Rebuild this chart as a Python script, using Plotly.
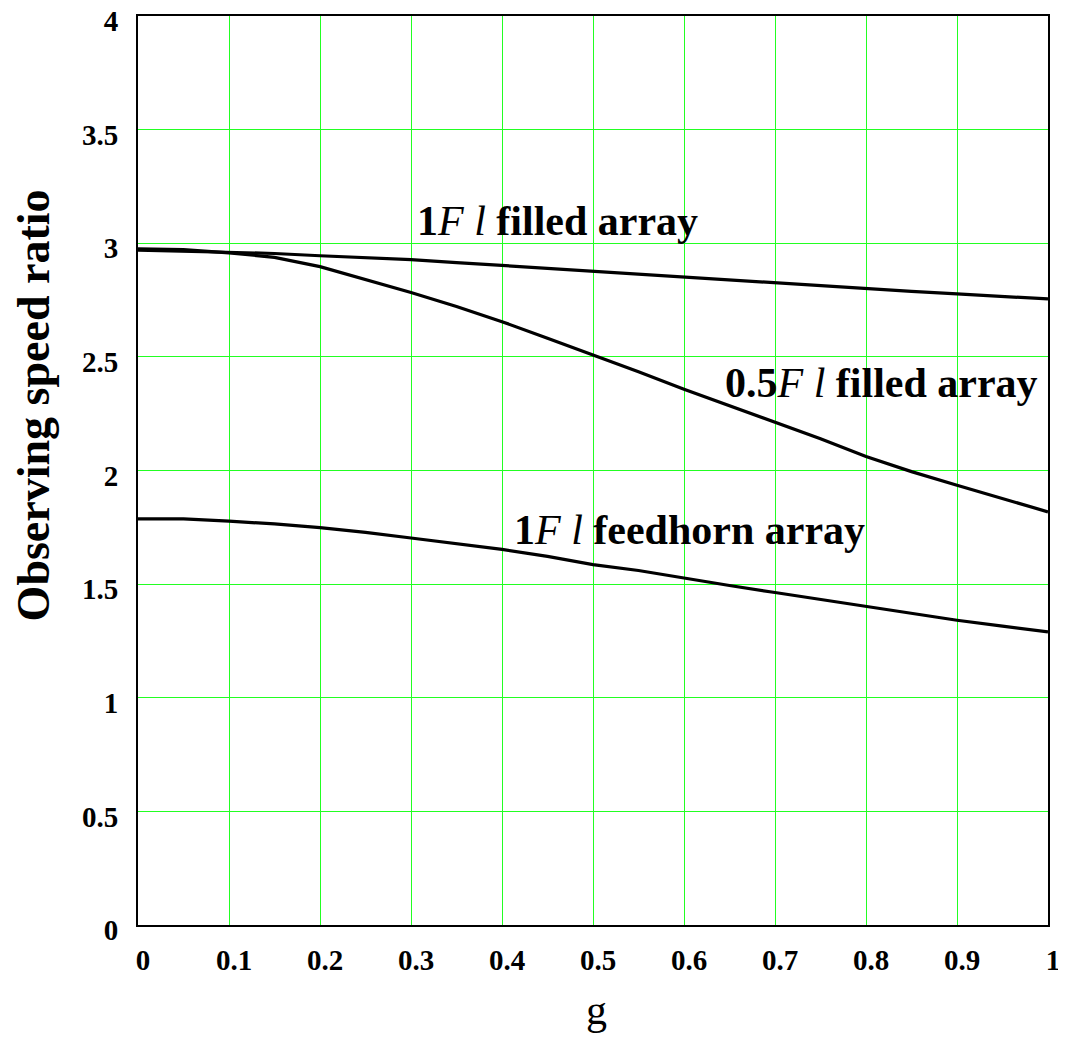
import plotly.graph_objects as go

g_vals = [0, 0.05, 0.1, 0.15, 0.2, 0.25, 0.3, 0.35, 0.4, 0.45, 0.5,
          0.55, 0.6, 0.65, 0.7, 0.75, 0.8, 0.85, 0.9, 0.95, 1.0]

filled_1fl = [2.970, 2.965, 2.960, 2.955, 2.945, 2.937, 2.928, 2.915, 2.902, 2.890, 2.878,
              2.864, 2.850, 2.840, 2.827, 2.813, 2.800, 2.788, 2.777, 2.765, 2.755]

filled_05fl = [2.975, 2.972, 2.958, 2.938, 2.897, 2.840, 2.783, 2.722, 2.655, 2.582, 2.510,
               2.435, 2.358, 2.285, 2.212, 2.140, 2.062, 1.995, 1.935, 1.877, 1.818]

feedhorn_1fl = [1.787, 1.787, 1.777, 1.765, 1.749, 1.728, 1.703, 1.679, 1.653, 1.622, 1.586,
                1.560, 1.526, 1.494, 1.463, 1.433, 1.400, 1.370, 1.341, 1.315, 1.290]

x_ticks = [0, 0.1, 0.2, 0.3, 0.4, 0.5, 0.6, 0.7, 0.8, 0.9, 1]
x_tick_labels = ["0", "0.1", "0.2", "0.3", "0.4", "0.5", "0.6", "0.7", "0.8", "0.9", "1"]
y_ticks = [0, 0.5, 1, 1.5, 2, 2.5, 3, 3.5, 4]
y_tick_labels = ["0", "0.5", "1", "1.5", "2", "2.5", "3", "3.5", "4"]

labels = ["<b>1</b><i>F l</i><b> filled array</b>",
          "<b>0.5</b><i>F l</i><b> filled array</b>",
          "<b>1</b><i>F l</i><b> feedhorn array</b>"]
label_x = [0.304, 0.643, 0.411]
label_y = [3.10, 2.385, 1.737]

x_title = "g"
y_title = "Observing speed ratio"

SERIF = "Liberation Serif, Times New Roman, serif"
GRID = "#22ff22"

fig = go.Figure()
for ys in (filled_1fl, filled_05fl, feedhorn_1fl):
    fig.add_trace(go.Scatter(x=g_vals, y=ys, mode="lines",
                             line=dict(color="black", width=3.2), showlegend=False,
                             hoverinfo="skip"))

for txt, lx, ly in zip(labels, label_x, label_y):
    fig.add_annotation(x=lx, y=ly, text=txt, showarrow=False,
                       xanchor="left", yanchor="middle",
                       font=dict(family=SERIF, size=42, color="black"))

fig.add_annotation(xref="paper", yref="paper", x=0.504, y=-0.0935, text=x_title,
                   showarrow=False, xanchor="center", yanchor="middle",
                   font=dict(family=SERIF, size=42, color="black"))
fig.add_annotation(xref="paper", yref="paper", x=-0.115, y=0.572,
                   text="<b>" + y_title + "</b>", textangle=-90,
                   showarrow=False, xanchor="center", yanchor="middle",
                   font=dict(family=SERIF, size=46, color="black"))

fig.update_layout(
    width=1058, height=1034,
    margin=dict(l=130, r=18, t=8, b=117),
    paper_bgcolor="white", plot_bgcolor="white",
    xaxis=dict(range=[0, 1], tickvals=x_ticks, ticktext=["<b>%s</b>" % t for t in x_tick_labels],
               showgrid=True, gridcolor=GRID, gridwidth=1, zeroline=False,
               showline=True, linecolor="black", linewidth=2, mirror=True,
               ticks="", ticklabelstandoff=8, ticklabelshift=5, automargin=False,
               ticklabeloverflow="allow",
               tickfont=dict(family=SERIF, size=29, color="black")),
    yaxis=dict(range=[0, 4], tickvals=y_ticks, ticktext=["<b>%s</b>" % t for t in y_tick_labels],
               showgrid=True, gridcolor=GRID, gridwidth=1, zeroline=False,
               showline=True, linecolor="black", linewidth=2, mirror=True,
               ticks="", ticklabelstandoff=12, ticklabelshift=5, automargin=False,
               ticklabeloverflow="allow",
               tickfont=dict(family=SERIF, size=29, color="black")),
)

fig.write_html("out.html")
